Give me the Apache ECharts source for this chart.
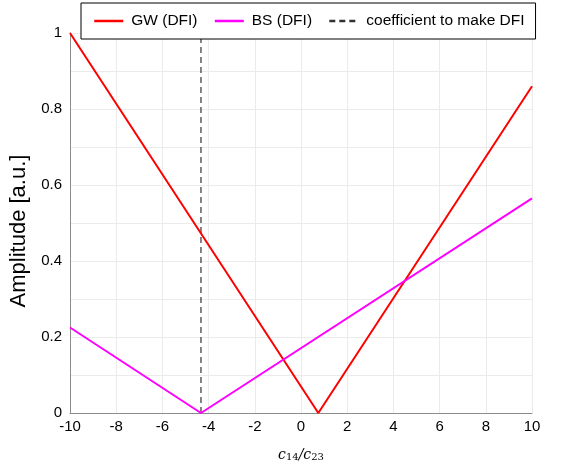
<!DOCTYPE html>
<html>
<head>
<meta charset="utf-8">
<script src="https://cdn.jsdelivr.net/npm/echarts@6/dist/echarts.min.js"></script>
<style>html,body{margin:0;padding:0;background:#fff;}#c{width:561px;height:467px;}</style>
</head>
<body>
<div id="c"></div>
<script>
// Data
const gwX = [-10, 0.75, 10];
const gwY = [1.0, 0.0, 0.86];
const bsX = [-10, -4.33, 10];
const bsY = [0.225, 0.0, 0.565];
const coefX = [-4.33, -4.33];
const coefY = [0, 1];
const seriesNames = ['GW (DFI)', 'BS (DFI)', 'coefficient to make DFI'];

const zip = (xs, ys) => xs.map((x, i) => [x, ys[i]]);
const FONT = 'Liberation Sans, Arial, sans-serif';

const chart = echarts.init(document.getElementById('c'), null, {renderer: 'canvas'});
chart.setOption({
  animation: false,
  backgroundColor: '#fff',
  textStyle: {fontFamily: FONT},
  grid: {left: 70, right: 29, top: 33, bottom: 47, containLabel: false},
  legend: {
    left: 81, top: 3,
    padding: [10, 11, 10, 12],
    borderColor: '#000', borderWidth: 1,
    backgroundColor: '#fff',
    itemGap: 16, itemWidth: 29, itemHeight: 14,
    itemStyle: {opacity: 0, borderWidth: 0},
    lineStyle: {width: 2.5},
    textStyle: {fontSize: 15.5, color: '#000', fontFamily: FONT, padding: [0, 0, 0, 3]},
    data: seriesNames
  },
  xAxis: {
    type: 'value', min: -10, max: 10, interval: 2,
    axisLine: {show: true, onZero: false, lineStyle: {color: '#8c8c8c', width: 1}},
    axisTick: {show: false},
    axisLabel: {fontSize: 15, color: '#000', margin: 6, fontFamily: FONT},
    splitLine: {show: true, lineStyle: {color: '#ebebeb', width: 1}},
    name: '{c|c}{s|14}{n|/}{c|c}{s|23}',
    nameLocation: 'middle', nameGap: 29,
    nameTextStyle: {
      rich: {
        c: {fontFamily: 'DejaVu Serif, serif', fontStyle: 'italic', fontSize: 14, color: '#000', lineHeight: 20, verticalAlign: 'bottom'},
        n: {fontFamily: 'DejaVu Serif, serif', fontStyle: 'italic', fontSize: 14, color: '#000', lineHeight: 20, verticalAlign: 'bottom'},
        s: {fontFamily: 'DejaVu Serif, serif', fontSize: 10, color: '#000', lineHeight: 10, verticalAlign: 'bottom'}
      }
    }
  },
  yAxis: {
    type: 'value', min: 0, max: 1, interval: 0.2,
    axisLine: {show: true, onZero: false, lineStyle: {color: '#8c8c8c', width: 1}},
    axisTick: {show: false},
    axisLabel: {fontSize: 15, color: '#000', margin: 8, fontFamily: FONT,
      formatter: v => String(+v.toFixed(1))},
    splitLine: {show: true, lineStyle: {color: '#ebebeb', width: 1}},
    minorTick: {show: false, splitNumber: 2},
    minorSplitLine: {show: true, lineStyle: {color: '#ebebeb', width: 1}},
    name: 'Amplitude [a.u.]', nameLocation: 'middle', nameGap: 32,
    nameTextStyle: {fontSize: 22, color: '#000', fontFamily: FONT, padding: [0, 16, 0, 0]}
  },
  series: [
    {name: seriesNames[0], type: 'line', data: zip(gwX, gwY), symbol: 'none',
     lineStyle: {color: '#ff0000', width: 2}, itemStyle: {color: '#ff0000'}, z: 3},
    {name: seriesNames[1], type: 'line', data: zip(bsX, bsY), symbol: 'none',
     lineStyle: {color: '#ff00ff', width: 2}, itemStyle: {color: '#ff00ff'}, z: 3},
    {name: seriesNames[2], type: 'line', data: zip(coefX, coefY), symbol: 'none',
     lineStyle: {color: '#333333', width: 1.2, type: [6, 4]}, itemStyle: {color: '#000'}, z: 2}
  ]
});
</script>
</body>
</html>
